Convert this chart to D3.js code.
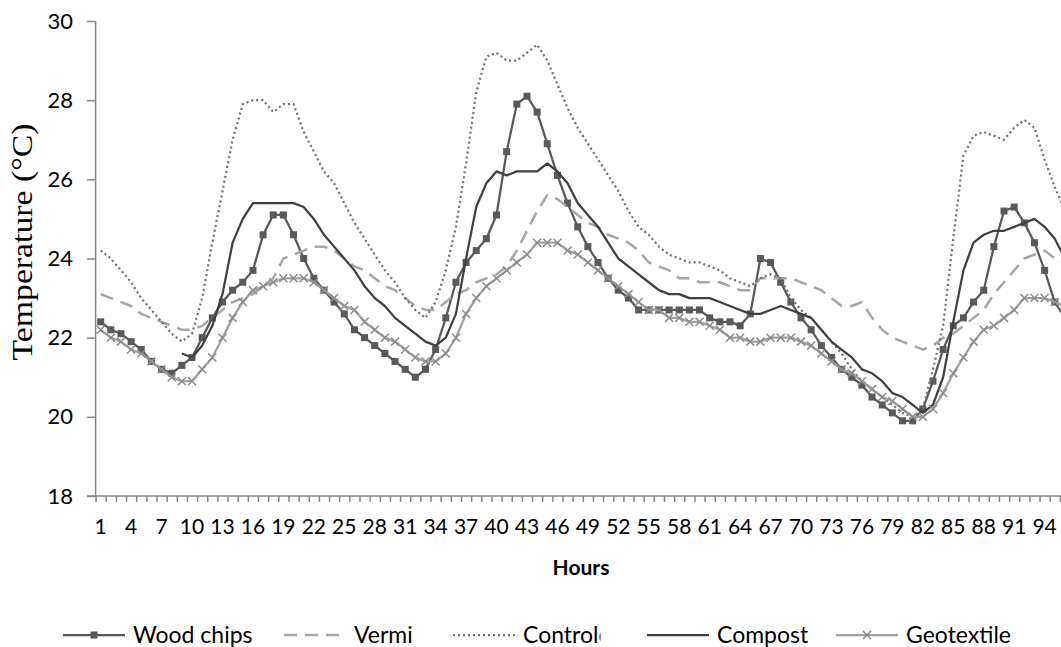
<!DOCTYPE html>
<html>
<head>
<meta charset="utf-8">
<script src="https://cdn.jsdelivr.net/npm/d3@7/dist/d3.min.js"></script>
<style>
    body { margin: 0; background: #fff; }
    svg { display: block; }
    text { font-family: Lato, "Open Sans", sans-serif; fill: #000; }
</style>
</head>
<body>
<svg width="1061" height="647"></svg>
<script>

var hours = d3.range(1, 97);
var hourLabels = [1, 4, 7, 10, 13, 16, 19, 22, 25, 28, 31, 34, 37, 40, 43, 46, 49, 52, 55, 58, 61, 64, 67, 70, 73, 76, 79, 82, 85, 88, 91, 94];
var tempTicks = [18, 20, 22, 24, 26, 28, 30];

var woodChips = [22.4, 22.2, 22.1, 21.9, 21.7, 21.4, 21.2, 21.1, 21.3, 21.5, 22.0, 22.5, 22.9, 23.2, 23.4, 23.7, 24.6, 25.1, 25.1, 24.6,
    24.0, 23.5, 23.2, 22.9, 22.6, 22.2, 22.0, 21.8, 21.6, 21.4, 21.2, 21.0, 21.2, 21.7, 22.5, 23.4, 23.9, 24.2, 24.5, 25.1,
    26.7, 27.9, 28.1, 27.7, 26.9, 26.1, 25.4, 24.8, 24.3, 23.9, 23.5, 23.2, 23.0, 22.7, 22.7, 22.7, 22.7, 22.7, 22.7, 22.7,
    22.5, 22.4, 22.4, 22.3, 22.6, 24.0, 23.9, 23.4, 22.9, 22.5, 22.2, 21.8, 21.5, 21.2, 21.0, 20.8, 20.5, 20.3, 20.1, 19.9,
    19.9, 20.2, 20.9, 21.7, 22.3, 22.5, 22.9, 23.2, 24.3, 25.2, 25.3, 24.9, 24.4, 23.7, 22.9, 22.5];

var vermi = [23.1, 23.0, 22.9, 22.8, 22.6, 22.5, 22.4, 22.3, 22.2, 22.2, 22.3, 22.5, 22.7, 22.9, 23.0, 23.1, 23.3, 23.5, 24.0, 24.1,
    24.2, 24.3, 24.3, 24.2, 24.0, 23.8, 23.7, 23.5, 23.3, 23.2, 23.0, 22.8, 22.7, 22.7, 22.9, 23.1, 23.2, 23.4, 23.5, 23.6,
    23.8, 24.2, 24.7, 25.2, 25.6, 25.5, 25.3, 25.1, 24.9, 24.8, 24.6, 24.5, 24.4, 24.2, 23.9, 23.8, 23.7, 23.5, 23.5, 23.4,
    23.4, 23.4, 23.3, 23.2, 23.2, 23.5, 23.5, 23.5, 23.5, 23.4, 23.3, 23.2, 23.0, 22.8, 22.8, 22.9, 22.5, 22.2, 22.0, 21.9,
    21.8, 21.7, 21.8, 22.0, 22.1, 22.3, 22.5, 22.7, 23.1, 23.4, 23.7, 24.0, 24.1, 24.2, 24.0, 23.9];

var controle = [24.2, 24.0, 23.7, 23.4, 23.0, 22.7, 22.4, 22.1, 21.9, 22.1, 23.0, 24.4, 25.7, 27.0, 27.9, 28.0, 28.0, 27.7, 27.9, 27.9,
    27.2, 26.7, 26.2, 25.9, 25.4, 24.9, 24.5, 24.1, 23.7, 23.4, 23.0, 22.7, 22.5, 22.9, 23.7, 24.8, 26.4, 28.2, 29.1, 29.2,
    29.0, 29.0, 29.2, 29.4, 29.0, 28.4, 27.8, 27.3, 26.9, 26.5, 26.1, 25.7, 25.2, 24.8, 24.6, 24.3, 24.1, 24.0, 23.9, 23.9,
    23.8, 23.7, 23.5, 23.4, 23.3, 23.5, 23.6, 23.5, 23.0, 22.7, 22.5, 22.2, 21.9, 21.6, 21.2, 20.9, 20.7, 20.5, 20.3, 20.1,
    20.0, 20.2, 21.2, 22.3, 24.5, 26.6, 27.1, 27.2, 27.1, 27.0, 27.3, 27.5, 27.3, 26.5, 25.8, 25.2];

var compost = [null, null, null, null, null, null, null, null, 21.6, 21.5, 21.8, 22.3, 23.1, 24.4, 25.0, 25.4, 25.4, 25.4, 25.4, 25.4,
    25.3, 25.0, 24.6, 24.3, 24.0, 23.7, 23.3, 23.0, 22.8, 22.5, 22.3, 22.1, 21.9, 21.8, 22.0, 22.6, 24.0, 25.3, 25.9, 26.2,
    26.1, 26.2, 26.2, 26.2, 26.4, 26.2, 25.9, 25.4, 25.1, 24.8, 24.4, 24.0, 23.8, 23.6, 23.4, 23.2, 23.1, 23.1, 23.0, 23.0,
    23.0, 22.9, 22.8, 22.7, 22.6, 22.6, 22.7, 22.8, 22.7, 22.6, 22.5, 22.2, 21.9, 21.7, 21.5, 21.2, 21.1, 20.9, 20.6, 20.5,
    20.3, 20.1, 20.3, 21.0, 22.4, 23.7, 24.4, 24.6, 24.7, 24.7, 24.8, 24.9, 25.0, 24.8, 24.5, 24.0];

var geotextile = [22.2, 22.0, 21.9, 21.7, 21.6, 21.4, 21.2, 21.0, 20.9, 20.9, 21.2, 21.5, 22.0, 22.5, 22.9, 23.2, 23.3, 23.4, 23.5, 23.5,
    23.5, 23.4, 23.2, 23.0, 22.8, 22.7, 22.4, 22.2, 22.0, 21.9, 21.7, 21.5, 21.4, 21.4, 21.6, 22.0, 22.6, 23.0, 23.3, 23.5,
    23.7, 23.9, 24.1, 24.4, 24.4, 24.4, 24.2, 24.1, 23.9, 23.7, 23.5, 23.3, 23.1, 22.9, 22.7, 22.7, 22.5, 22.5, 22.4, 22.4,
    22.3, 22.2, 22.0, 22.0, 21.9, 21.9, 22.0, 22.0, 22.0, 21.9, 21.8, 21.6, 21.4, 21.2, 21.1, 20.9, 20.7, 20.5, 20.4, 20.2,
    20.0, 20.0, 20.2, 20.6, 21.1, 21.5, 21.9, 22.2, 22.3, 22.5, 22.7, 23.0, 23.0, 23.0, 22.9, 22.8];

// styling per series, legend x positions in pixels
var series = [
    { name: 'Wood chips', values: woodChips, color: '#595959', dash: null, width: 2.25, marker: 'square', lx: 63 },
    { name: 'Vermi', values: vermi, color: '#a6a6a6', dash: '13,8', width: 2.5, marker: null, lx: 284 },
    { name: 'Controle', values: controle, color: '#707070', dash: '2,3', width: 2.25, marker: null, lx: 453 },
    { name: 'Compost', values: compost, color: '#404040', dash: null, width: 2.25, marker: null, lx: 647 },
    { name: 'Geotextile', values: geotextile, color: '#a0a0a0', dash: null, width: 2.25, marker: 'cross', lx: 836 }
];

var svg = d3.select("svg"),
    width = +svg.attr("width"),
    height = +svg.attr("height");

var plotLeft = 95.6, plotTop = 21, plotBottom = 496;

var x = d3.scaleBand()
    .domain(hours)
    .range([plotLeft, plotLeft + hours.length * 10.15])
    .padding(0);

var xEdge = d3.scaleLinear()
    .domain([0, hours.length])
    .range(x.range());

var y = d3.scaleLinear()
    .domain([18, 30])
    .range([plotBottom, plotTop]);

function cx(i) { return x(hours[i]) + x.bandwidth() / 2; }

var axisColor = '#868686';

//y axis
var yAxis = svg.append("g")
    .attr("transform", "translate(" + plotLeft + ",0)")
    .call(d3.axisLeft(y).tickValues(tempTicks).tickSize(8.5).tickPadding(14).tickFormat(d3.format("d")));
yAxis.selectAll("line, path").attr("stroke", axisColor).attr("stroke-width", 1.5);
yAxis.select(".domain").attr("d", "M0," + plotTop + "V" + plotBottom);
yAxis.selectAll("text").style("font-size", "22px").attr("fill", "#000");

//x axis: minor ticks between hours
var xTicks = svg.append("g")
    .attr("transform", "translate(0," + plotBottom + ")")
    .call(d3.axisBottom(xEdge).tickValues(d3.range(0, hours.length + 1)).tickSize(6).tickFormat(""));
xTicks.selectAll("line, path").attr("stroke", axisColor).attr("stroke-width", 1.5);
xTicks.select(".domain").attr("d", "M" + (plotLeft - 8.5) + ",0H" + xEdge.range()[1]);

//x labels every 3 hours
var xLabels = svg.append("g")
    .attr("transform", "translate(0," + plotBottom + ")")
    .call(d3.axisBottom(x).tickValues(hourLabels).tickSize(0).tickPadding(23));
xLabels.select(".domain").remove();
xLabels.selectAll("text").style("font-size", "21px").attr("fill", "#000");

//axis titles
svg.append("text")
    .attr("transform", "translate(32,242) rotate(-90)")
    .attr("text-anchor", "middle")
    .style("font-family", "'Liberation Serif', 'Times New Roman', serif")
    .style("font-size", "29px")
    .attr("textLength", 237)
    .attr("lengthAdjust", "spacingAndGlyphs")
    .text("Temperature (°C)");

svg.append("text")
    .attr("x", 581)
    .attr("y", 575)
    .attr("text-anchor", "middle")
    .style("font-size", "21px")
    .style("font-weight", "bold")
    .text("Hours");

//lines
var line = d3.line()
    .defined(function (d) { return d != null; })
    .x(function (d, i) { return cx(i); })
    .y(function (d) { return y(d); });

var plot = svg.append("g").attr("class", "lines");

series.forEach(function (s) {
    plot.append("path")
        .datum(s.values)
        .attr("fill", "none")
        .attr("stroke", s.color)
        .attr("stroke-width", s.width)
        .attr("stroke-dasharray", s.dash)
        .attr("stroke-linejoin", "round")
        .attr("d", line);

    var pts = s.values.map(function (v, i) { return { v: v, i: i }; })
        .filter(function (d) { return d.v != null; });

    if (s.marker == 'square') {
        plot.append("g").selectAll("rect")
            .data(pts)
            .enter().append("rect")
            .attr("x", function (d) { return cx(d.i) - 3.5; })
            .attr("y", function (d) { return y(d.v) - 3.5; })
            .attr("width", 7)
            .attr("height", 7)
            .attr("fill", s.color);
    }
    if (s.marker == 'cross') {
        plot.append("g").selectAll("path")
            .data(pts)
            .enter().append("path")
            .attr("transform", function (d) { return "translate(" + cx(d.i) + "," + y(d.v) + ")"; })
            .attr("d", "M-4,-4L4,4M-4,4L4,-4")
            .attr("stroke", '#8c8c8c')
            .attr("stroke-width", 1.5);
    }
});

//legend
var legendY = 635;
var legend = svg.append("g").attr("class", "legend");

series.forEach(function (s) {
    var g = legend.append("g");
    g.append("line")
        .attr("x1", s.lx).attr("x2", s.lx + 62)
        .attr("y1", legendY).attr("y2", legendY)
        .attr("stroke", s.color)
        .attr("stroke-width", s.width)
        .attr("stroke-dasharray", s.dash);
    var mx = s.lx + 31;
    if (s.marker == 'square') {
        g.append("rect").attr("x", mx - 3.5).attr("y", legendY - 3.5).attr("width", 7).attr("height", 7).attr("fill", s.color);
    }
    if (s.marker == 'cross') {
        g.append("path").attr("transform", "translate(" + mx + "," + legendY + ")")
            .attr("d", "M-4,-4L4,4M-4,4L4,-4").attr("stroke", '#8c8c8c').attr("stroke-width", 1.5);
    }
    var t = g.append("text")
        .attr("x", s.lx + 70)
        .attr("y", legendY)
        .attr("dy", "0.35em")
        .style("font-size", "23px")
        .text(s.name);

    // the legend entry for Controle is cut off in the original
    if (s.name == 'Controle') {
        var cut = s.lx + 70 + t.node().getSubStringLength(0, 7) + 2;
        svg.append("clipPath").attr("id", "clipControle")
            .append("rect").attr("x", s.lx + 60).attr("y", legendY - 20).attr("width", cut - s.lx - 60).attr("height", 40);
        t.attr("clip-path", "url(#clipControle)");
    }
});

</script>
</body>
</html>
